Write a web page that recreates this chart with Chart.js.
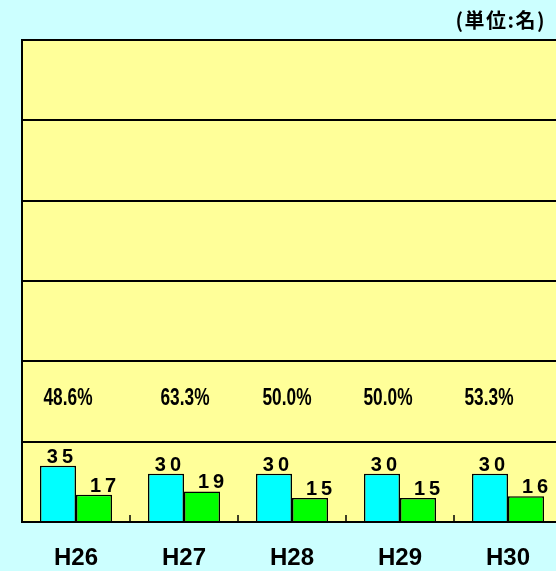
<!DOCTYPE html>
<html><head><meta charset="utf-8">
<script src="https://cdn.jsdelivr.net/npm/chart.js@4/dist/chart.umd.min.js"></script>
<style>
html,body{margin:0;padding:0;background:#CCFFFF;width:556px;height:571px;overflow:hidden;}
#wrap{position:relative;width:556px;height:571px;overflow:hidden;}
#unit{position:absolute;right:10px;top:5px;font:bold 20px "Noto Sans CJK JP",sans-serif;letter-spacing:1.5px;color:#000;}
canvas{position:absolute;left:0;top:0;}
</style></head><body>
<div id="wrap"><canvas id="c" width="570" height="571"></canvas><div id="unit">(単位:名)</div></div>
<script>
const categories = ['H26','H27','H28','H29','H30'];
const seriesA = [35, 30, 30, 30, 30];
const seriesB = [17, 19, 15, 15, 16];
const rates = ['48.6%','63.3%','50.0%','50.0%','53.3%'];

const bgPlugin = {
  id:'bg',
  beforeDraw(chart){
    const {ctx, chartArea:a} = chart;
    ctx.save(); ctx.fillStyle='#FFFF99';
    ctx.fillRect(a.left,a.top,a.right-a.left,a.bottom-a.top); ctx.restore();
  }
};
const tickPlugin = {
  id:'ticksIn',
  afterDraw(chart){
    const {ctx} = chart; const x = chart.scales.x; const y = chart.scales.y;
    const b = y.getPixelForValue(0);
    ctx.save(); ctx.strokeStyle='#000'; ctx.lineWidth=1.5;
    for(let i=0;i<categories.length-1;i++){
      const px = (x.getPixelForValue(i)+x.getPixelForValue(i+1))/2;
      ctx.beginPath(); ctx.moveTo(px,b); ctx.lineTo(px,b-7); ctx.stroke();
    }
    ctx.restore();
  }
};
const labelPlugin = {
  id:'labels',
  afterDatasetsDraw(chart, args, opts){
    const {ctx} = chart; const x = chart.scales.x; const y = chart.scales.y;
    ctx.save(); ctx.fillStyle='#000';
    ctx.font='bold 20px "Liberation Sans", Arial, sans-serif';
    ctx.textAlign='center'; ctx.textBaseline='alphabetic';
    try{ ctx.letterSpacing='4px'; }catch(e){}
    chart.data.datasets.forEach((ds,di)=>{
      const meta = chart.getDatasetMeta(di);
      meta.data.forEach((bar,i)=>{
        ctx.fillText(String(ds.data[i]), bar.x + opts.valueShift[di] + 2, bar.y - 3);
      });
    });
    try{ ctx.letterSpacing='0px'; }catch(e){}
    ctx.font='bold 24px "Liberation Sans", Arial, sans-serif';
    ctx.textBaseline='middle';
    const py = y.getPixelForValue(opts.rateLevel);
    rates.forEach((t,i)=>{
      const px = x.getPixelForValue(i) + opts.rateShift[i];
      ctx.save(); ctx.translate(px,py); ctx.scale(0.72,1);
      ctx.fillText(t,0,0); ctx.restore();
    });
    ctx.restore();
  }
};

new Chart(document.getElementById('c'),{
  type:'bar',
  data:{
    labels:categories,
    datasets:[
      {data:seriesA, backgroundColor:'#00FFFF', borderColor:'#000', borderWidth:1.5, borderSkipped:'bottom'},
      {data:seriesB, backgroundColor:'#00FF00', borderColor:'#000', borderWidth:1.5, borderSkipped:'bottom'}
    ]
  },
  options:{
    responsive:false, animation:false,
    layout:{padding:{left:22,top:40,right:8,bottom:2}},
    datasets:{bar:{categoryPercentage:0.667, barPercentage:1.0}},
    plugins:{
      legend:{display:false}, tooltip:{enabled:false},
      labels:{valueShift:[2,9], rateLevel:77, rateShift:[-8,1,-5,-12,-19]}
    },
    scales:{
      x:{
        afterFit(s){ s.height = 47; },
        grid:{display:false, drawTicks:false},
        border:{display:true,color:'#000',width:2},
        ticks:{padding:22,color:'#000',font:{family:'"Liberation Sans", Arial, sans-serif',size:24,weight:'bold'}}
      },
      y:{
        min:0,max:300,
        ticks:{display:false,stepSize:50},
        grid:{color:'#000',lineWidth:2,drawTicks:false},
        border:{display:true,color:'#000',width:2}
      }
    }
  },
  plugins:[bgPlugin,tickPlugin,labelPlugin]
});
</script>
</body></html>
